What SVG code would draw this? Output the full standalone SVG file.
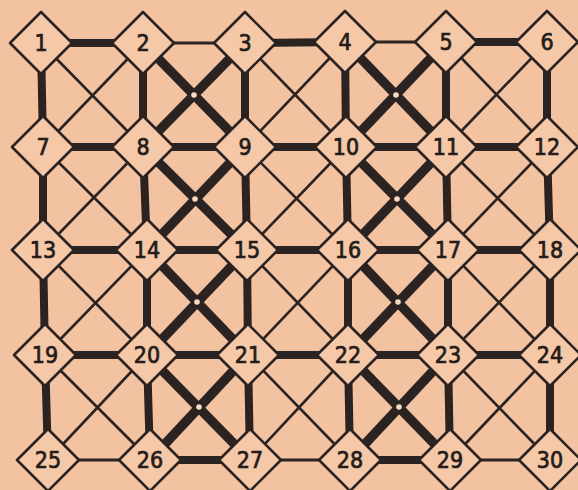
<svg xmlns="http://www.w3.org/2000/svg" width="578" height="490" viewBox="0 0 578 490">
<style>
.bg{fill:#f3c2a0}
.e{stroke:#2b2321;stroke-linecap:butt;fill:none}
.tk{stroke-width:8}
.tn{stroke-width:3}
.xk{stroke-width:9.5}
.xn{stroke-width:2.6}
.d{fill:#f5c8a7;stroke:#2b2321;stroke-width:2.6;stroke-linejoin:round}
.t{font-family:"DejaVu Sans Condensed","Liberation Sans",sans-serif;font-size:23px;fill:#231c1a;stroke:#231c1a;stroke-width:0.7;text-anchor:middle}
.dot{fill:#f6dcc4}
</style>
<rect class="bg" width="578" height="490"/>
<g id="connectors">
<line class="e tk" x1="41" y1="43" x2="143" y2="43"/>
<line class="e tn" x1="143" y1="43" x2="245" y2="43"/>
<line class="e tk" x1="245" y1="43" x2="345" y2="42"/>
<line class="e tn" x1="345" y1="42" x2="446" y2="42"/>
<line class="e tk" x1="446" y1="42" x2="547" y2="42"/>
<line class="e tk" x1="43" y1="147" x2="143" y2="147"/>
<line class="e tk" x1="143" y1="147" x2="245" y2="147"/>
<line class="e tk" x1="245" y1="147" x2="346" y2="147"/>
<line class="e tk" x1="346" y1="147" x2="446" y2="147"/>
<line class="e tk" x1="446" y1="147" x2="547" y2="147"/>
<line class="e tk" x1="43" y1="250" x2="147" y2="250"/>
<line class="e tk" x1="147" y1="250" x2="247" y2="250"/>
<line class="e tk" x1="247" y1="250" x2="348" y2="250"/>
<line class="e tk" x1="348" y1="250" x2="448" y2="250"/>
<line class="e tk" x1="448" y1="250" x2="550" y2="250"/>
<line class="e tk" x1="45" y1="355" x2="147" y2="355"/>
<line class="e tk" x1="147" y1="355" x2="248" y2="355"/>
<line class="e tk" x1="248" y1="355" x2="348" y2="355"/>
<line class="e tk" x1="348" y1="355" x2="448" y2="355"/>
<line class="e tk" x1="448" y1="355" x2="550" y2="355"/>
<line class="e tn" x1="48" y1="460" x2="150" y2="460"/>
<line class="e tk" x1="150" y1="460" x2="250" y2="460"/>
<line class="e tn" x1="250" y1="460" x2="350" y2="460"/>
<line class="e tk" x1="350" y1="460" x2="450" y2="460"/>
<line class="e tn" x1="450" y1="460" x2="550" y2="460"/>
<polyline class="e tk" points="41,43 43,147 43,250 45,355 48,460"/>
<polyline class="e tk" points="143,43 143,147 147,250 147,355 150,460"/>
<polyline class="e tk" points="245,43 245,147 247,250 248,355 250,460"/>
<polyline class="e tk" points="345,42 346,147 348,250 348,355 350,460"/>
<polyline class="e tk" points="446,42 446,147 448,250 448,355 450,460"/>
<polyline class="e tk" points="547,42 547,147 550,250 550,355 550,460"/>
<line class="e xn" x1="41" y1="43" x2="143" y2="147"/><line class="e xn" x1="143" y1="43" x2="43" y2="147"/>
<line class="e xk" x1="143" y1="43" x2="245" y2="147"/><line class="e xk" x1="245" y1="43" x2="143" y2="147"/>
<line class="e xn" x1="245" y1="43" x2="346" y2="147"/><line class="e xn" x1="345" y1="42" x2="245" y2="147"/>
<line class="e xk" x1="345" y1="42" x2="446" y2="147"/><line class="e xk" x1="446" y1="42" x2="346" y2="147"/>
<line class="e xn" x1="446" y1="42" x2="547" y2="147"/><line class="e xn" x1="547" y1="42" x2="446" y2="147"/>
<line class="e xn" x1="43" y1="147" x2="147" y2="250"/><line class="e xn" x1="143" y1="147" x2="43" y2="250"/>
<line class="e xk" x1="143" y1="147" x2="247" y2="250"/><line class="e xk" x1="245" y1="147" x2="147" y2="250"/>
<line class="e xn" x1="245" y1="147" x2="348" y2="250"/><line class="e xn" x1="346" y1="147" x2="247" y2="250"/>
<line class="e xk" x1="346" y1="147" x2="448" y2="250"/><line class="e xk" x1="446" y1="147" x2="348" y2="250"/>
<line class="e xn" x1="446" y1="147" x2="550" y2="250"/><line class="e xn" x1="547" y1="147" x2="448" y2="250"/>
<line class="e xn" x1="43" y1="250" x2="147" y2="355"/><line class="e xn" x1="147" y1="250" x2="45" y2="355"/>
<line class="e xk" x1="147" y1="250" x2="248" y2="355"/><line class="e xk" x1="247" y1="250" x2="147" y2="355"/>
<line class="e xn" x1="247" y1="250" x2="348" y2="355"/><line class="e xn" x1="348" y1="250" x2="248" y2="355"/>
<line class="e xk" x1="348" y1="250" x2="448" y2="355"/><line class="e xk" x1="448" y1="250" x2="348" y2="355"/>
<line class="e xn" x1="448" y1="250" x2="550" y2="355"/><line class="e xn" x1="550" y1="250" x2="448" y2="355"/>
<line class="e xn" x1="45" y1="355" x2="150" y2="460"/><line class="e xn" x1="147" y1="355" x2="48" y2="460"/>
<line class="e xk" x1="147" y1="355" x2="250" y2="460"/><line class="e xk" x1="248" y1="355" x2="150" y2="460"/>
<line class="e xn" x1="248" y1="355" x2="350" y2="460"/><line class="e xn" x1="348" y1="355" x2="250" y2="460"/>
<line class="e xk" x1="348" y1="355" x2="450" y2="460"/><line class="e xk" x1="448" y1="355" x2="350" y2="460"/>
<line class="e xn" x1="448" y1="355" x2="550" y2="460"/><line class="e xn" x1="550" y1="355" x2="450" y2="460"/>
<circle class="dot" cx="194" cy="95" r="2.8"/><circle class="dot" cx="396" cy="95" r="2.8"/>
<circle class="dot" cx="195" cy="199" r="2.8"/><circle class="dot" cx="397" cy="199" r="2.8"/>
<circle class="dot" cx="197" cy="302" r="2.8"/><circle class="dot" cx="398" cy="302" r="2.8"/>
<circle class="dot" cx="199" cy="407" r="2.8"/><circle class="dot" cx="399" cy="407" r="2.8"/>
</g>
<g id="n1"><polygon class="d" points="41,12 72,43 41,74 10,43"/><text class="t" x="41" y="51">1</text></g>
<g id="n2"><polygon class="d" points="143,12 174,43 143,74 112,43"/><text class="t" x="143" y="51">2</text></g>
<g id="n3"><polygon class="d" points="245,12 276,43 245,74 214,43"/><text class="t" x="245" y="51">3</text></g>
<g id="n4"><polygon class="d" points="345,11 376,42 345,73 314,42"/><text class="t" x="345" y="50">4</text></g>
<g id="n5"><polygon class="d" points="446,11 477,42 446,73 415,42"/><text class="t" x="446" y="50">5</text></g>
<g id="n6"><polygon class="d" points="547,11 578,42 547,73 516,42"/><text class="t" x="547" y="50">6</text></g>
<g id="n7"><polygon class="d" points="43,116 74,147 43,178 12,147"/><text class="t" x="43" y="155">7</text></g>
<g id="n8"><polygon class="d" points="143,116 174,147 143,178 112,147"/><text class="t" x="143" y="155">8</text></g>
<g id="n9"><polygon class="d" points="245,116 276,147 245,178 214,147"/><text class="t" x="245" y="155">9</text></g>
<g id="n10"><polygon class="d" points="346,116 377,147 346,178 315,147"/><text class="t" x="346" y="155">10</text></g>
<g id="n11"><polygon class="d" points="446,116 477,147 446,178 415,147"/><text class="t" x="446" y="155">11</text></g>
<g id="n12"><polygon class="d" points="547,116 578,147 547,178 516,147"/><text class="t" x="547" y="155">12</text></g>
<g id="n13"><polygon class="d" points="43,219 74,250 43,281 12,250"/><text class="t" x="43" y="258">13</text></g>
<g id="n14"><polygon class="d" points="147,219 178,250 147,281 116,250"/><text class="t" x="147" y="258">14</text></g>
<g id="n15"><polygon class="d" points="247,219 278,250 247,281 216,250"/><text class="t" x="247" y="258">15</text></g>
<g id="n16"><polygon class="d" points="348,219 379,250 348,281 317,250"/><text class="t" x="348" y="258">16</text></g>
<g id="n17"><polygon class="d" points="448,219 479,250 448,281 417,250"/><text class="t" x="448" y="258">17</text></g>
<g id="n18"><polygon class="d" points="550,219 581,250 550,281 519,250"/><text class="t" x="550" y="258">18</text></g>
<g id="n19"><polygon class="d" points="45,324 76,355 45,386 14,355"/><text class="t" x="45" y="363">19</text></g>
<g id="n20"><polygon class="d" points="147,324 178,355 147,386 116,355"/><text class="t" x="147" y="363">20</text></g>
<g id="n21"><polygon class="d" points="248,324 279,355 248,386 217,355"/><text class="t" x="248" y="363">21</text></g>
<g id="n22"><polygon class="d" points="348,324 379,355 348,386 317,355"/><text class="t" x="348" y="363">22</text></g>
<g id="n23"><polygon class="d" points="448,324 479,355 448,386 417,355"/><text class="t" x="448" y="363">23</text></g>
<g id="n24"><polygon class="d" points="550,324 581,355 550,386 519,355"/><text class="t" x="550" y="363">24</text></g>
<g id="n25"><polygon class="d" points="48,429 79,460 48,491 17,460"/><text class="t" x="48" y="468">25</text></g>
<g id="n26"><polygon class="d" points="150,429 181,460 150,491 119,460"/><text class="t" x="150" y="468">26</text></g>
<g id="n27"><polygon class="d" points="250,429 281,460 250,491 219,460"/><text class="t" x="250" y="468">27</text></g>
<g id="n28"><polygon class="d" points="350,429 381,460 350,491 319,460"/><text class="t" x="350" y="468">28</text></g>
<g id="n29"><polygon class="d" points="450,429 481,460 450,491 419,460"/><text class="t" x="450" y="468">29</text></g>
<g id="n30"><polygon class="d" points="550,429 581,460 550,491 519,460"/><text class="t" x="550" y="468">30</text></g>
</svg>
